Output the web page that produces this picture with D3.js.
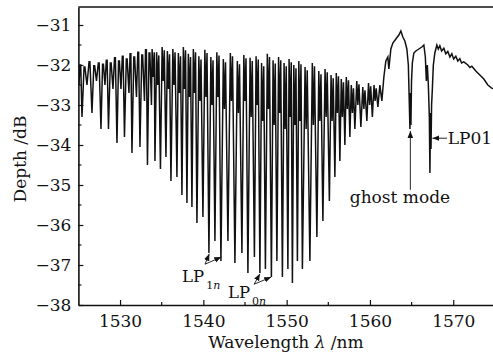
<!DOCTYPE html>
<html>
<head>
<meta charset="utf-8">
<script src="https://cdn.jsdelivr.net/npm/d3@7"></script>
<style>
  body { margin: 0; background: #fff; }
  svg { display: block; }
  text { font-family: "DejaVu Serif", "Liberation Serif", serif; fill: #111; }
</style>
</head>
<body>
<div class="result"></div>
<script>
// Tick values
const xTicks = [1530, 1540, 1550, 1560, 1570];
const xMinor = [1535, 1545, 1555, 1565];
const yTicks = [-38, -37, -36, -35, -34, -33, -32, -31];
const yMinor = [-37.5, -36.5, -35.5, -34.5, -33.5, -32.5, -31.5];

// Comb of dips (wavelength nm, depth dB), level of the top before each dip,
// and the shallow notch inside that top (null = none)
const dipWl = [1525.43, 1526.03, 1526.63, 1527.17, 1527.71, 1528.19, 1528.61, 1529.15, 1529.63,
  1530.11, 1530.53, 1531.07, 1531.43, 1531.97, 1532.39, 1532.93, 1533.29, 1533.77,
  1534.19, 1534.85, 1535.51, 1536.11, 1536.83, 1537.43, 1538.03, 1538.63, 1539.23,
  1539.95, 1540.67, 1541.39, 1542.11, 1542.95, 1543.79, 1544.63, 1545.35, 1546.13,
  1546.79, 1547.45, 1548.17, 1548.83, 1549.49, 1550.15, 1550.69, 1551.29, 1551.89,
  1552.79, 1553.63, 1554.35, 1555.13, 1555.79, 1556.39, 1556.99, 1557.59, 1558.19,
  1558.91, 1559.63, 1560.29, 1560.95];
const dipDb = [-33.3, -32.5, -33.2, -32.4, -33.6, -32.5, -33.6, -32.6, -33.95,
  -32.6, -33.8, -32.7, -34.2, -32.8, -34.05, -32.9, -34.5, -33.0,
  -34.4, -34.6, -34.3, -34.9, -34.8, -35.25, -35.45, -35.55, -35.95,
  -35.8, -36.7, -36.4, -36.9, -36.4, -36.95, -36.7, -37.2, -36.8,
  -37.2, -37.1, -37.3, -36.9, -37.3, -37.1, -37.45, -36.9, -37.1,
  -36.9, -36.3, -35.9, -35.4, -34.8, -34.4, -34.0, -33.8, -33.6,
  -33.55, -33.4, -33.3, -33.05];
const topDb = [-32.0, -32.05, -31.92, -32.02, -31.95, -31.98, -31.88, -31.95, -31.82,
  -31.9, -31.78, -31.85, -31.72, -31.8, -31.68, -31.75, -31.62, -31.7,
  -31.6, -31.68, -31.55, -31.65, -31.6, -31.7, -31.55, -31.72, -31.6,
  -31.78, -31.62, -31.8, -31.68, -31.85, -31.7, -31.9, -31.75, -31.82,
  -31.78, -31.95, -31.72, -31.88, -31.8, -31.95, -31.85, -32.0, -31.9,
  -32.05, -31.95, -32.15, -32.1, -32.25, -32.2, -32.35, -32.3, -32.5,
  -32.4, -32.55, -32.45, -32.5];
const notchDb = [null, null, null, null, null, null, null, null, null,
  null, null, null, null, null, null, null, null, null,
  -32.3, -32.5, -32.4, -32.6, -32.5, -32.7, -32.6, -32.8, -32.7,
  -32.9, -32.8, -33.0, -32.8, -33.1, -32.9, -33.2, -32.9, -33.3,
  -33.0, -33.4, -33.1, -33.5, -33.2, -33.6, -33.3, -33.5, -33.4,
  -33.6, -33.5, -33.4, -33.3, -33.4, -33.2, -33.3, -33.1, -33.2,
  -33.0, -33.1, -33.0, -32.9];

// Long-wavelength part: ghost mode and LP01 dips
const tailWl = [1561.19, 1561.43, 1561.67, 1561.91, 1562.15, 1562.27, 1562.51, 1562.75, 1563.11,
  1563.47, 1563.71, 1563.95, 1564.19, 1564.43, 1564.61, 1564.73, 1564.8, 1564.86, 1564.92,
  1564.99, 1565.09, 1565.27, 1565.51, 1565.87, 1566.23, 1566.47, 1566.65, 1566.77, 1566.89,
  1567.01, 1567.13, 1567.2, 1567.27, 1567.33, 1567.4, 1567.49, 1567.61, 1567.79, 1568.03,
  1568.2, 1568.39, 1568.6, 1568.87, 1569.1, 1569.35, 1569.6, 1569.83, 1570.05, 1570.31,
  1570.55, 1570.79, 1571.0, 1571.27, 1571.75, 1572.0, 1572.23, 1572.71, 1573.19, 1573.67,
  1574.15, 1574.75];
const tailDb = [-32.5, -32.9, -32.3, -31.9, -31.8, -32.1, -31.6, -31.45, -31.35,
  -31.25, -31.15, -31.3, -31.4, -31.6, -32.0, -33.0, -33.6, -32.7, -33.5,
  -32.4, -31.95, -31.7, -31.65, -31.6, -31.55, -31.5, -31.8, -32.4, -32.0,
  -32.5, -33.3, -34.7, -33.2, -34.1, -33.0, -32.6, -32.0, -31.7, -31.5,
  -31.6, -31.52, -31.65, -31.58, -31.72, -31.66, -31.8, -31.72, -31.85, -31.78,
  -31.9, -31.84, -31.95, -31.92, -32.0, -32.06, -32.03, -32.15, -32.25, -32.35,
  -32.5, -32.6];

const W = 493, H = 358;
const margin = { left: 78.4, top: 7, bottom: 53 };

const x = d3.scaleLinear().domain([1525, 1575]).range([margin.left, 494.9]);
const y = d3.scaleLinear().domain([-38, -30.55]).range([H - margin.bottom, margin.top]);

const svg = d3.select('.result').append('svg')
  .attr('width', W)
  .attr('height', H);

const defs = svg.append('defs');
defs.append('clipPath').attr('id', 'plot')
  .append('rect')
  .attr('x', x(1525)).attr('y', y(-30.55))
  .attr('width', x(1575) - x(1525)).attr('height', y(-38) - y(-30.55));

const arrow = defs.append('marker')
  .attr('id', 'head')
  .attr('viewBox', '0 0 10 10')
  .attr('refX', 10).attr('refY', 5)
  .attr('markerWidth', 7).attr('markerHeight', 7)
  .attr('markerUnits', 'userSpaceOnUse')
  .attr('orient', 'auto');
arrow.append('path').attr('d', 'M0,1 L10,5 L0,9 z').attr('fill', '#111');

// Build trace from the arrays
const trace = [[1525.07, -32.5]];
for (let i = 0; i < dipWl.length; i++) {
  const mid = i === 0 ? dipWl[0] - 0.2 : (dipWl[i - 1] + dipWl[i]) / 2;
  if (notchDb[i] === null) {
    trace.push([mid - 0.05, topDb[i]]);
    trace.push([mid + 0.05, topDb[i]]);
  } else {
    trace.push([mid - 0.13, topDb[i]]);
    trace.push([mid, notchDb[i]]);
    trace.push([mid + 0.13, topDb[i] - 0.08]);
  }
  trace.push([dipWl[i], dipDb[i]]);
}
for (let i = 0; i < tailWl.length; i++) trace.push([tailWl[i], tailDb[i]]);

svg.append('path')
  .datum(trace)
  .attr('clip-path', 'url(#plot)')
  .attr('fill', 'none')
  .attr('stroke', '#111')
  .attr('stroke-width', 1.5)
  .attr('stroke-linejoin', 'miter')
  .attr('d', d3.line().x(d => x(d[0])).y(d => y(d[1])));

// Axes
const xAxis = d3.axisBottom(x).tickValues(xTicks).tickSizeInner(-5).tickSizeOuter(0).tickPadding(8).tickFormat(d3.format('d'));
const yAxis = d3.axisLeft(y).tickValues(yTicks).tickSizeInner(-5).tickSizeOuter(0).tickPadding(7)
  .tickFormat(d => String(d).replace('-', '\u2212'));

const gx = svg.append('g').attr('transform', 'translate(0,' + y(-38) + ')').call(xAxis);
const gy = svg.append('g').attr('transform', 'translate(' + x(1525) + ',0)').call(yAxis);

svg.append('g').selectAll('line').data(xMinor).enter().append('line')
  .attr('x1', d => x(d)).attr('x2', d => x(d))
  .attr('y1', y(-38)).attr('y2', y(-38) - 3)
  .attr('stroke', '#111').attr('stroke-width', 1.2);
svg.append('g').selectAll('line').data(yMinor).enter().append('line')
  .attr('x1', x(1525)).attr('x2', x(1525) + 3)
  .attr('y1', d => y(d)).attr('y2', d => y(d))
  .attr('stroke', '#111').attr('stroke-width', 1.2);

[gx, gy].forEach(g => {
  g.select('.domain').attr('stroke', '#111').attr('stroke-width', 1.6);
  g.selectAll('.tick line').attr('stroke', '#111').attr('stroke-width', 1.2);
  g.selectAll('.tick text').attr('font-size', 17).attr('fill', '#111')
    .style('font-family', '"DejaVu Serif", serif');
});
gx.selectAll('.tick text').attr('dy', '0.8em');

// Top frame line
svg.append('line')
  .attr('x1', x(1525)).attr('x2', W)
  .attr('y1', y(-30.55)).attr('y2', y(-30.55))
  .attr('stroke', '#111').attr('stroke-width', 1.6);

// Axis titles
const xt = svg.append('text')
  .attr('x', 286).attr('y', 348)
  .attr('text-anchor', 'middle')
  .attr('font-size', 17);
xt.append('tspan').text('Wavelength ');
xt.append('tspan').attr('font-style', 'italic').text('\u03bb');
xt.append('tspan').text(' /nm');

svg.append('text')
  .attr('transform', 'translate(26,' + (y(-34.35)) + ') rotate(-90)')
  .attr('text-anchor', 'middle')
  .attr('font-size', 17)
  .text('Depth /dB');

// Annotations
function label(wl, db, main, sub) {
  const t = svg.append('text').attr('x', x(wl)).attr('y', y(db)).attr('font-size', 16.5);
  t.append('tspan').text(main);
  t.append('tspan').attr('font-size', 11).attr('dy', 7).attr('dx', 2).text(sub[0])
    .append('tspan').attr('font-style', 'italic').text(sub.slice(1));
}
function arrowLine(from, to) {
  svg.append('line')
    .attr('x1', x(from[0])).attr('y1', y(from[1]))
    .attr('x2', x(to[0])).attr('y2', y(to[1]))
    .attr('stroke', '#111').attr('stroke-width', 0.9)
    .attr('marker-end', 'url(#head)');
}

label(1537.45, -37.43, 'LP', '1n');
arrowLine([1540.2, -36.98], [1540.72, -36.72]);
arrowLine([1540.2, -36.98], [1542.15, -36.8]);

label(1542.95, -37.83, 'LP', '0n');
arrowLine([1546.1, -37.48], [1546.8, -37.22]);
arrowLine([1546.1, -37.48], [1548.15, -37.3]);

svg.append('text')
  .attr('x', x(1563.6)).attr('y', y(-35.45))
  .attr('text-anchor', 'middle')
  .attr('font-size', 17)
  .text('ghost mode');
arrowLine([1564.85, -35.12], [1564.85, -33.65]);

svg.append('text')
  .attr('x', x(1569.35)).attr('y', y(-33.98))
  .attr('font-size', 17)
  .text('LP01');
arrowLine([1569.25, -33.83], [1567.5, -33.83]);
</script>
</body>
</html>
